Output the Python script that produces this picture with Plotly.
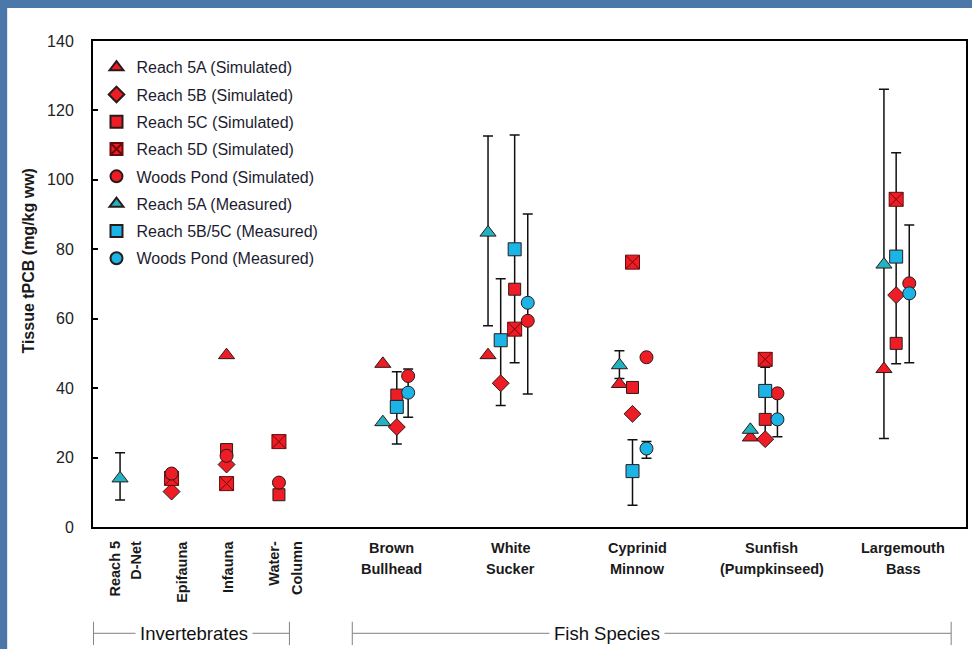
import plotly.graph_objects as go

# ---- categories -------------------------------------------------------------
CATEGORIES = ["Reach 5<br>D-Net", "Epifauna", "Infauna", "Water-<br>Column",
              "Brown<br>Bullhead", "White<br>Sucker", "Cyprinid<br>Minnow",
              "Sunfish<br>(Pumpkinseed)", "Largemouth<br>Bass"]
ROTATED = [True, True, True, True, False, False, False, False, False]

# ---- simulated tissue tPCB (mg/kg ww) -----------------------------------------
SIM_5A = [None, None, 49.5, None, 47.0, 49.5, 41.2, 25.8, 45.5]
SIM_5B = [None, 10.2, 18.0, None, 28.8, 41.4, 32.6, 25.3, 66.8]
SIM_5C = [None, None, 22.3, 9.3, 38.0, 68.5, 40.2, 31.0, 52.9]
SIM_5D = [None, 14.0, 12.5, 24.6, None, 57.0, 76.3, 48.3, 94.4]
SIM_WP = [None, 15.4, 20.5, 12.8, 43.5, 59.4, 48.9, 38.5, 70.2]

# ---- measured tissue tPCB: mean, min, max ------------------------------------
MEAS_5A = [14.0, None, None, None, 30.2, 84.8, 46.6, 28.0, 75.6]
MEAS_5A_LO = [7.8, None, None, None, None, 58.0, 42.8, None, 25.5]
MEAS_5A_HI = [21.4, None, None, None, None, 112.6, 50.8, None, 126.1]

MEAS_5B = [None, None, None, None, 34.6, 53.8, 16.1, 39.2, 77.9]
MEAS_5B_LO = [None, None, None, None, 23.9, 35.0, 6.3, 26.0, 47.0]
MEAS_5B_HI = [None, None, None, None, 44.7, 71.5, 25.1, 46.0, 107.8]

MEAS_5C = [None, None, None, None, None, 80.0, None, None, None]
MEAS_5C_LO = [None, None, None, None, None, 47.3, None, None, None]
MEAS_5C_HI = [None, None, None, None, None, 112.9, None, None, None]

MEAS_WP = [None, None, None, None, 38.7, 64.6, 22.6, 31.0, 67.3]
MEAS_WP_LO = [None, None, None, None, 31.6, 38.3, 19.8, 26.0, 47.3]
MEAS_WP_HI = [None, None, None, None, 45.5, 90.2, 24.6, 38.5, 87.0]

# ---- layout: category centres and per-reach horizontal slots -----------------
CAT_X = [3.1, 9.0, 15.3, 21.3, 34.8, 47.5, 61.8, 77.0, 92.0]
SLOT_DX = {
    "5A": [0, 0, 0, 0, -1.6, -2.25, -1.5, -1.7, -1.4],
    "5B": [0, 0, 0, 0, 0, -0.8, 0, 0, 0],
    "5C": [0, 0, 0, 0, 0, 0.8, 0, 0, 0],
    "WP": [0, 0, 0, 0, 1.3, 2.3, 1.6, 1.4, 1.5],
}
LABEL_X = [(2.5, 5.0), (10.1,), (15.4,), (20.8, 23.3),
           34.2, 47.85, 62.4, 77.75, 92.8]

RED = "#ee1c25"
CYAN = "#1ab4e6"
TEAL = "#22b2c0"
EDGE = "#2a1a1a"
FONT = "Arial, Liberation Sans, sans-serif"


def points(values, slot):
    xs, ys = [], []
    for i, v in enumerate(values):
        if v is None:
            continue
        xs.append(CAT_X[i] + SLOT_DX[slot][i])
        ys.append(v)
    return xs, ys


fig = go.Figure()

# error bars (min-max of measured data) sit underneath every marker
err_sets = [
    (MEAS_5A, MEAS_5A_LO, MEAS_5A_HI, "5A"),
    (MEAS_5B, MEAS_5B_LO, MEAS_5B_HI, "5B"),
    (MEAS_5C, MEAS_5C_LO, MEAS_5C_HI, "5C"),
    (MEAS_WP, MEAS_WP_LO, MEAS_WP_HI, "WP"),
]
for vals, lo, hi, slot in err_sets:
    xs, ys, ep, em = [], [], [], []
    for i, v in enumerate(vals):
        if v is None or lo[i] is None:
            continue
        xs.append(CAT_X[i] + SLOT_DX[slot][i])
        ys.append(v)
        ep.append(hi[i] - v)
        em.append(v - lo[i])
    fig.add_trace(go.Scatter(
        x=xs, y=ys, mode="markers", showlegend=False, hoverinfo="skip",
        marker=dict(size=1, color="rgba(0,0,0,0)"),
        error_y=dict(type="data", array=ep, arrayminus=em, symmetric=False,
                     color="#111111", thickness=1.5, width=5),
    ))

series = [
    ("Reach 5A (Simulated)", SIM_5A, "5A", "triangle-up", 14, RED, 1),
    ("Reach 5B (Simulated)", SIM_5B, "5B", "diamond", 13, RED, 2),
    ("Reach 5C (Simulated)", SIM_5C, "5C", "square", 12, RED, 3),
    ("Reach 5D (Simulated)", SIM_5D, "5C", "square-x", 14, RED, 4),
    ("Woods Pond (Simulated)", SIM_WP, "WP", "circle", 13, RED, 5),
]
for name, vals, slot, sym, size, col, rank in series:
    xs, ys = points(vals, slot)
    line_col = "#6a0a0a" if sym == "square-x" else EDGE
    fig.add_trace(go.Scatter(
        x=xs, y=ys, mode="markers", name=name, legendrank=rank,
        legendgroup=name,
        marker=dict(symbol=sym, size=size, color=col,
                    line=dict(color=line_col, width=1)),
    ))

# measured series on top
xa, ya = points(MEAS_5A, "5A")
fig.add_trace(go.Scatter(
    x=xa, y=ya, mode="markers", name="Reach 5A (Measured)", legendrank=6,
    legendgroup="m5a",
    marker=dict(symbol="triangle-up", size=14, color=TEAL,
                line=dict(color=EDGE, width=1)),
))
xb, yb = points(MEAS_5B, "5B")
xc, yc = points(MEAS_5C, "5C")
fig.add_trace(go.Scatter(
    x=xb + xc, y=yb + yc, mode="markers", name="Reach 5B/5C (Measured)",
    legendrank=7, legendgroup="m5bc",
    marker=dict(symbol="square", size=13, color=CYAN,
                line=dict(color=EDGE, width=1)),
))
xw, yw = points(MEAS_WP, "WP")
fig.add_trace(go.Scatter(
    x=xw, y=yw, mode="markers", name="Woods Pond (Measured)", legendrank=8,
    legendgroup="mwp",
    marker=dict(symbol="circle", size=13, color=CYAN,
                line=dict(color=EDGE, width=1)),
))

# ---- category labels ----------------------------------------------------------
annotations = []
for i, label in enumerate(CATEGORIES):
    lines = label.split("<br>")
    if ROTATED[i]:
        for j, ln in enumerate(lines):
            annotations.append(dict(
                x=LABEL_X[i][j], y=-0.024, xref="x", yref="paper",
                text=f"<b>{ln}</b>", textangle=-90, showarrow=False,
                xanchor="center", yanchor="top",
                font=dict(family=FONT, size=14.5, color="#1a1a1a")))
    else:
        for j, ln in enumerate(lines):
            annotations.append(dict(
                x=LABEL_X[i], y=-0.0438 - 0.0426 * j, xref="x", yref="paper",
                text=f"<b>{ln}</b>", showarrow=False,
                xanchor="center", yanchor="middle",
                font=dict(family=FONT, size=14.5, color="#1a1a1a")))

# group brackets
BRACKET_Y = -0.2187
groups = [("Invertebrates", 0.05, 22.5, 11.6), ("Fish Species", 29.7, 98.3, 58.9)]
shapes = [dict(type="rect", xref="paper", yref="paper", x0=-0.0983, x1=1.01,
               y0=-0.3, y1=1.0679, fillcolor="white", line=dict(width=0),
               layer="below")]
for text, x0, x1, xm in groups:
    shapes.append(dict(type="line", xref="x", yref="paper", x0=x0, x1=x1,
                       y0=BRACKET_Y, y1=BRACKET_Y,
                       line=dict(color="#808080", width=1)))
    for xe in (x0, x1):
        shapes.append(dict(type="line", xref="x", yref="paper", x0=xe, x1=xe,
                           y0=-0.195, y1=-0.243,
                           line=dict(color="#808080", width=1)))
    annotations.append(dict(
        x=xm, y=BRACKET_Y, xref="x", yref="paper", text=text, showarrow=False,
        xanchor="center", yanchor="middle", bgcolor="white", borderpad=4,
        font=dict(family=FONT, size=18.5, color="#111111")))

# y axis title
annotations.append(dict(
    x=-0.074, y=0.549, xref="paper", yref="paper",
    text="<b>Tissue tPCB (mg/kg ww)</b>", textangle=-90, showarrow=False,
    xanchor="center", yanchor="middle",
    font=dict(family=FONT, size=16, color="#1a1a1a")))

fig.update_layout(
    width=972, height=649,
    margin=dict(l=93, r=4, t=41, b=122, pad=0),
    paper_bgcolor="#4b77a9", plot_bgcolor="white",
    font=dict(family=FONT, color="#1a1a1a"),
    showlegend=True,
    legend=dict(x=0.004, y=0.981, xanchor="left", yanchor="top",
                bgcolor="rgba(0,0,0,0)", itemsizing="constant",
                tracegroupgap=3.5,
                font=dict(family=FONT, size=16, color="#1c1c30")),
    xaxis=dict(range=[0, 100], showticklabels=False, ticks="",
               showgrid=False, zeroline=False, showline=True, mirror=True,
               linecolor="black", linewidth=2),
    yaxis=dict(range=[0, 140], dtick=20, ticks="inside", ticklen=5,
               tickwidth=1.5, tickcolor="black", showgrid=False,
               zeroline=False, showline=True, mirror=True, linecolor="black",
               linewidth=2, ticklabelstandoff=14,
               tickfont=dict(family=FONT, size=16, color="#222222")),
    shapes=shapes,
    annotations=annotations,
)

fig.write_html("out.html")
